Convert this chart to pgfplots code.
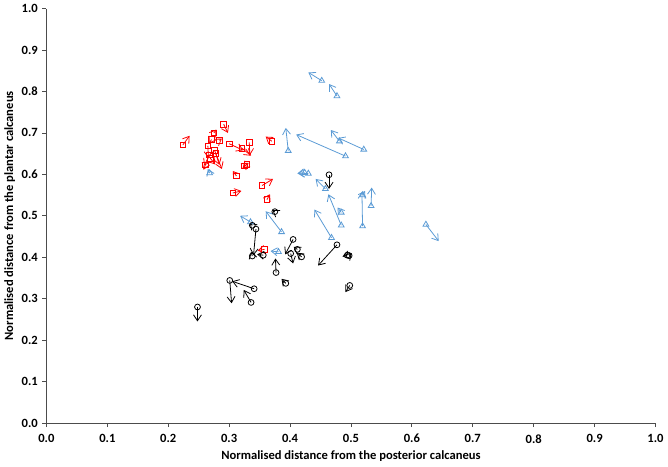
\documentclass[border=0pt]{standalone}
\usepackage{pgfplots}
\pgfplotsset{compat=1.18}
\usepackage{pgfplotstable}
\usetikzlibrary{arrows.meta}
\usepackage{fontspec}
\setmainfont{Carlito}
\definecolor{xlblue}{HTML}{5B9BD5}

\pgfplotstableread{
x y u v
0.452 0.826 -0.022 0.020
0.477 0.789 -0.013 0.029
0.397 0.657 -0.004 0.055
0.491 0.644 -0.081 0.052
0.521 0.660 -0.042 0.028
0.481 0.680 -0.014 0.027
0.268 0.603 -0.003 0.010
0.430 0.602 -0.017 0.001
0.424 0.604 -0.012 -0.002
0.458 0.565 -0.016 0.024
0.519 0.475 -0.001 0.083
0.519 0.550 0.004 0.010
0.533 0.524 0.001 0.044
0.484 0.477 -0.021 0.075
0.484 0.508 -0.006 0.012
0.468 0.447 -0.028 0.068
0.386 0.461 -0.026 0.050
0.335 0.485 -0.017 0.015
0.381 0.413 -0.013 0.002
0.623 0.479 0.021 -0.040
}\bluedata

\pgfplotstableread{
x y u v
0.224 0.671 0.011 0.022
0.291 0.721 0.007 -0.021
0.275 0.700 0.004 0.008
0.271 0.684 -0.004 -0.010
0.284 0.682 0.004 0.004
0.300 0.674 0.023 -0.016
0.321 0.663 0.015 -0.018
0.333 0.677 0.001 -0.031
0.370 0.680 -0.010 0.011
0.265 0.669 0.001 -0.030
0.276 0.658 0.012 -0.045
0.278 0.650 0.006 -0.027
0.268 0.647 -0.009 -0.026
0.261 0.623 -0.003 -0.012
0.269 0.639 0.008 -0.015
0.329 0.624 -0.007 -0.009
0.325 0.620 0.007 0.008
0.312 0.596 -0.006 0.012
0.306 0.555 0.014 0.005
0.354 0.573 0.018 0.016
0.362 0.539 0.005 0.013
0.358 0.419 -0.011 -0.003
}\reddata

\pgfplotstableread{
x y u v
0.464 0.599 0.000 -0.034
0.375 0.510 -0.004 0.004
0.338 0.477 -0.004 0.006
0.344 0.468 -0.004 -0.063
0.338 0.403 -0.002 0.010
0.356 0.405 -0.010 0.002
0.405 0.443 -0.013 -0.036
0.401 0.409 0.004 -0.024
0.412 0.419 -0.006 0.006
0.419 0.401 -0.008 0.010
0.477 0.430 -0.031 -0.050
0.494 0.405 -0.008 -0.003
0.497 0.404 0.004 0.006
0.377 0.363 -0.001 0.034
0.393 0.337 -0.007 0.011
0.498 0.332 -0.007 -0.016
0.301 0.344 0.003 -0.055
0.341 0.324 -0.036 0.018
0.336 0.291 -0.012 0.030
0.248 0.280 0.000 -0.035
}\blackdata

\begin{document}
\begin{tikzpicture}
\begin{axis}[
  scale only axis,
  width=460pt, height=313pt,
  xmin=0, xmax=1, ymin=0, ymax=1,
  axis x line*=bottom, axis y line*=left,
  axis line style={draw=black!70, line width=0.6pt},
  tick align=outside,
  major tick length=3pt,
  tick style={draw=black!70, line width=0.6pt},
  xtick={0,0.1,...,1.0}, ytick={0,0.1,...,1.0},
  /pgf/number format/.cd, fixed, fixed zerofill, precision=1, assume math mode=true,
  /pgfplots/.cd,
  ticklabel style={font=\fontsize{9.5}{11}\selectfont\bfseries},
  label style={font=\fontsize{9.5}{11}\selectfont\bfseries},
  xticklabel style={yshift=-2pt},
  xlabel={Normalised distance from the posterior calcaneus},
  ylabel={Normalised distance from the plantar calcaneus},
  xlabel style={yshift=1pt},
  ylabel style={yshift=-2pt},
  clip=false,
]
\addplot[xlblue, line width=0.6pt, quiver={u=\thisrow{u}, v=\thisrow{v},
  every arrow/.append style={-{Straight Barb[length=4.5pt,width=6pt]}}}]
  table {\bluedata};
\addplot[xlblue, only marks, mark=triangle, mark size=2.5pt, mark options={line width=0.6pt}] table {\bluedata};
\addplot[red, line width=0.6pt, quiver={u=\thisrow{u}, v=\thisrow{v},
  every arrow/.append style={-{Straight Barb[length=4.5pt,width=6pt]}}}]
  table {\reddata};
\addplot[red, only marks, mark=square, mark size=2.1pt, mark options={line width=0.6pt}] table {\reddata};
\addplot[black, line width=0.6pt, quiver={u=\thisrow{u}, v=\thisrow{v},
  every arrow/.append style={-{Straight Barb[length=4.5pt,width=6pt]}}}]
  table {\blackdata};
\addplot[black, only marks, mark=o, mark size=2.2pt, mark options={line width=0.6pt}] table {\blackdata};
\end{axis}
\end{tikzpicture}
\end{document}
